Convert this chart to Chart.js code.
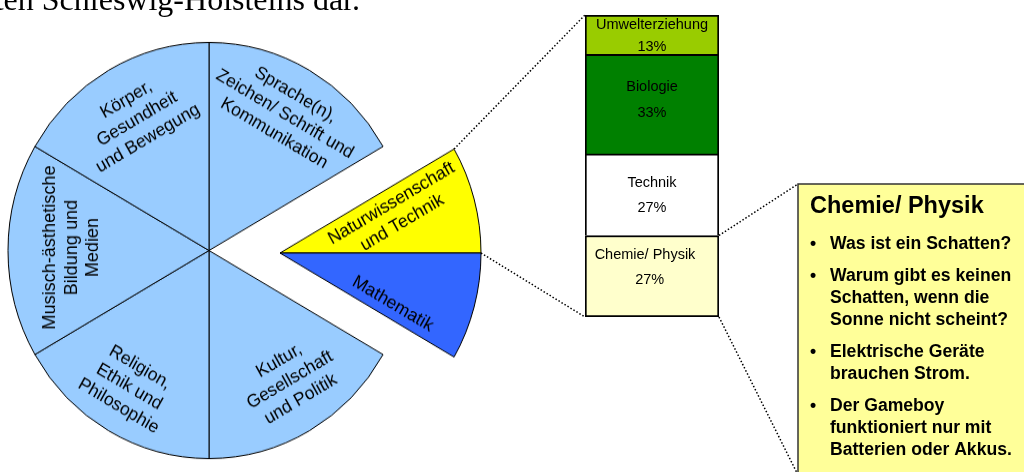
<!DOCTYPE html>
<html lang="de">
<head>
<meta charset="utf-8">
<title>Bildungsbereiche</title>
<script src="https://cdn.jsdelivr.net/npm/chart.js@4.4.1/dist/chart.umd.min.js"></script>
<style>
  html, body { margin: 0; padding: 0; background: #fff; overflow: hidden; }
  #wrap { position: relative; width: 1024px; height: 472px; }
  #wrap canvas { position: absolute; left: 0; top: 0; }
</style>
</head>
<body>
<div id="wrap">
  <canvas id="kreis" width="1024" height="472"></canvas>
  <canvas id="ausschnitt" width="1024" height="472"></canvas>
  <canvas id="saeule" width="1024" height="472"></canvas>
</div>
<script>
// Bildungsbereiche, im Uhrzeigersinn ab oben; Anteil in Grad
const bereiche = [
  ['Sprache(n),', 'Zeichen/ Schrift und', 'Kommunikation'],
  ['Naturwissenschaft', 'und Technik'],
  ['Mathematik'],
  ['Kultur,', 'Gesellschaft', 'und Politik'],
  ['Religion,', 'Ethik und', 'Philosophie'],
  ['Musisch-ästhetische', 'Bildung und', 'Medien'],
  ['Körper,', 'Gesundheit', 'und Bewegung']
];
const bereichGrad = [60, 30, 30, 60, 60, 60, 60];
const herausgezogen = [false, true, true, false, false, false, false];

// Aufteilung von "Naturwissenschaft und Technik" (von unten nach oben)
const teilbereiche = ['Chemie/ Physik', 'Technik', 'Biologie', 'Umwelterziehung'];
const teilProzent = [27, 27, 33, 13];

const kastenTitel = 'Chemie/ Physik';
const kastenPunkte = [
  ['Was ist ein Schatten?'],
  ['Warum gibt es keinen', 'Schatten, wenn die', 'Sonne nicht scheint?'],
  ['Elektrische Geräte', 'brauchen Strom.'],
  ['Der Gameboy', 'funktioniert nur mit', 'Batterien oder Akkus.']
];
const ueberschrift = 'ten Schleswig-Holsteins dar.';

// Farben
const bereichFarben = ['#99CCFF', '#FFFF00', '#3366FF', '#99CCFF', '#99CCFF', '#99CCFF', '#99CCFF'];
const teilFarben = ['#FFFFCC', '#FFFFFF', '#008000', '#99CC00'];

// Beschriftung im Kreis: Winkel ab oben, Abstand vom Mittelpunkt, Drehung
const kreisText = [
  [29.9, 152, 30], [71.7, 123, -30], [113.6, 123, 30], [147.1, 149, -30],
  [211.2, 154, 30], [271.2, 137, -90], [330.5, 146, -30]
];
// Beschriftung der Säule: Name und Prozent ab Oberkante, Versatz nach links/rechts
const saeulenText = [[20, 45, -7], [29, 54, 0], [33, 59, 0], [10, 32, 0]];

// der Kreis ist leicht in die Höhe gezogen
const streckung = 1.035;
const kreisMitte = { x: 209, y: 250.5 };
const ausschnittMitte = { x: 280, y: 253 };

const sans = '"Liberation Sans", Arial, sans-serif';
Chart.defaults.font.family = sans;

const rad = (g) => g * Math.PI / 180;

const kreisBeschriftung = {
  id: 'kreisBeschriftung',
  afterDatasetsDraw(chart, args, opts) {
    const ctx = chart.ctx;
    const arcs = chart.getDatasetMeta(0).data;
    ctx.save();
    ctx.font = '17.5px ' + sans;
    ctx.fillStyle = '#000';
    ctx.textAlign = 'center';
    ctx.textBaseline = 'middle';
    arcs.forEach((arc, i) => {
      if (herausgezogen[i] !== opts.teil) return;
      const [w, r, dreh] = kreisText[i];
      const a = rad(w - 90);
      const zeilen = bereiche[i];
      ctx.save();
      ctx.translate(arc.x + r * Math.cos(a), arc.y + r * Math.sin(a));
      ctx.rotate(rad(dreh));
      zeilen.forEach((z, k) => ctx.fillText(z, 0, (k - (zeilen.length - 1) / 2) * 21.5));
      ctx.restore();
    });
    ctx.restore();
  }
};

function kreisConfig(teil, mitte) {
  return {
    type: 'pie',
    data: {
      labels: bereiche.map(b => b.join(' ')),
      datasets: [{
        data: bereichGrad,
        backgroundColor: bereichFarben.map((f, i) => herausgezogen[i] === teil ? f : 'rgba(0,0,0,0)'),
        borderColor: '#000',
        borderWidth: herausgezogen.map(h => h === teil ? 1 : 0)
      }]
    },
    options: {
      responsive: false,
      devicePixelRatio: 1,
      animation: false,
      events: [],
      radius: 201,
      // Mittelpunkt über die Ränder festlegen
      layout: { padding: { left: 0, right: 1024 - 2 * mitte.x, top: 2 * mitte.y - 472, bottom: 0 } },
      plugins: {
        legend: { display: false },
        tooltip: { enabled: false },
        kreisBeschriftung: { teil }
      }
    },
    plugins: [kreisBeschriftung]
  };
}

function strecken(id, mitte) {
  const c = document.getElementById(id);
  c.style.transformOrigin = '0 ' + mitte.y + 'px';
  c.style.transform = 'scaleY(' + streckung + ')';
  return c;
}

const kreis = new Chart(strecken('kreis', kreisMitte), kreisConfig(false, kreisMitte));
const ausschnitt = new Chart(strecken('ausschnitt', ausschnittMitte), kreisConfig(true, ausschnittMitte));

function punktLinie(ctx, a, b) {
  ctx.beginPath();
  ctx.moveTo(a.x, a.y);
  ctx.lineTo(b.x, b.y);
  ctx.stroke();
}

const saeulenExtras = {
  id: 'saeulenExtras',
  afterDraw(chart) {
    const ctx = chart.ctx;
    const segs = teilbereiche.map((_, i) => chart.getDatasetMeta(i).data[0]);
    ctx.save();

    // Namen und Prozentangaben in der Säule
    ctx.font = '14.5px ' + sans;
    ctx.fillStyle = '#000';
    ctx.textAlign = 'center';
    ctx.textBaseline = 'middle';
    segs.forEach((s, i) => {
      const [dyName, dyWert, dx] = saeulenText[i];
      ctx.fillText(teilbereiche[i], s.x + dx, s.y + dyName);
      ctx.fillText(teilProzent[i] + '%', s.x + dx / 3, s.y + dyWert);
    });

    // gepunktete Verbindungen
    const nat = ausschnitt.getDatasetMeta(0).data[1];
    const ecke = (w) => ({
      x: nat.x + nat.outerRadius * Math.cos(w),
      y: ausschnittMitte.y + (nat.y + nat.outerRadius * Math.sin(w) - ausschnittMitte.y) * streckung
    });
    const oben = segs[segs.length - 1], unten = segs[0];
    const links = oben.x - oben.width / 2, rechts = unten.x + unten.width / 2;
    const kasten = { x: 798, y: 184, w: 240, h: 291 };
    ctx.strokeStyle = '#000';
    ctx.lineWidth = 1.5;
    ctx.setLineDash([1.5, 2]);
    punktLinie(ctx, ecke(nat.startAngle), { x: links, y: oben.y });
    punktLinie(ctx, ecke(nat.endAngle), { x: links, y: unten.base });
    punktLinie(ctx, { x: rechts, y: unten.y }, { x: kasten.x, y: kasten.y });
    punktLinie(ctx, { x: rechts, y: unten.base }, { x: kasten.x, y: kasten.y + kasten.h });
    ctx.setLineDash([]);

    // Kasten mit Fragen
    ctx.fillStyle = '#FFFF99';
    ctx.fillRect(kasten.x, kasten.y, kasten.w, kasten.h);
    ctx.strokeStyle = '#333';
    ctx.lineWidth = 1.5;
    ctx.strokeRect(kasten.x, kasten.y, kasten.w, kasten.h);
    ctx.fillStyle = '#000';
    ctx.textAlign = 'left';
    ctx.font = 'bold 23.5px ' + sans;
    ctx.fillText(kastenTitel, 810, 207);
    ctx.font = 'bold 17.6px ' + sans;
    let y = 244;
    kastenPunkte.forEach((p) => {
      ctx.fillText('•', 810, y);
      p.forEach((z) => { ctx.fillText(z, 830, y); y += 22; });
      y += 10;
    });

    // Rest der Überschrift oben
    ctx.font = '32px "Liberation Serif", "Times New Roman", serif';
    ctx.textAlign = 'right';
    ctx.textBaseline = 'alphabetic';
    ctx.fillText(ueberschrift, 360, 10);
    ctx.restore();
  }
};

const saeule = new Chart(document.getElementById('saeule'), {
  type: 'bar',
  data: {
    labels: ['Naturwissenschaft und Technik'],
    datasets: teilbereiche.map((t, i) => ({
      label: t,
      data: [teilProzent[i]],
      backgroundColor: teilFarben[i],
      borderColor: '#000',
      borderWidth: 2,
      borderSkipped: i === 0 ? false : 'start',
      barPercentage: 1,
      categoryPercentage: 1
    }))
  },
  options: {
    responsive: false,
    devicePixelRatio: 1,
    animation: false,
    events: [],
    layout: { padding: { left: 585, right: 305, top: 15, bottom: 155 } },
    scales: {
      x: { stacked: true, display: false },
      y: { stacked: true, display: false, min: 0, max: 100 }
    },
    plugins: {
      legend: { display: false },
      tooltip: { enabled: false }
    }
  },
  plugins: [saeulenExtras]
});
</script>
</body>
</html>
